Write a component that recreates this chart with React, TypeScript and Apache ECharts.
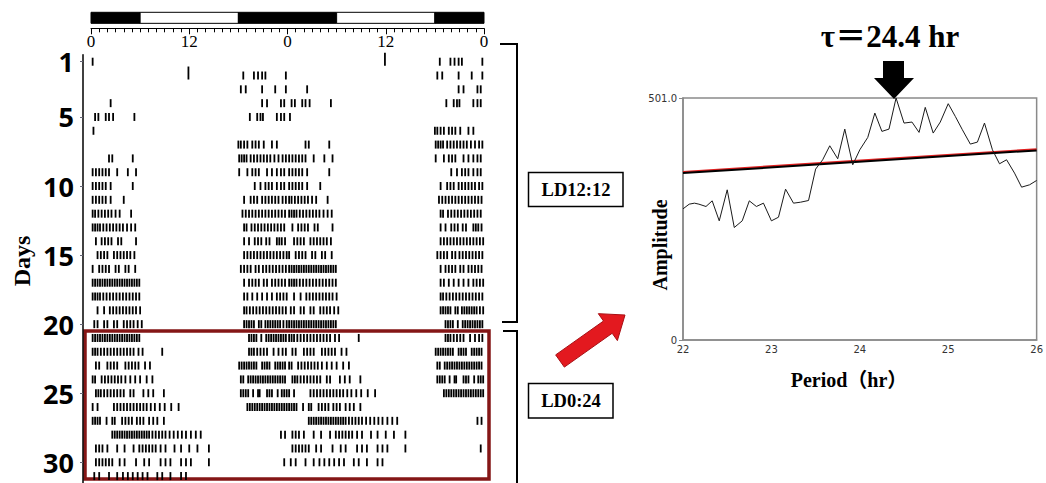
import React, { useEffect, useRef } from "react";
import * as echarts from "echarts";

// ---------- Actogram data (activity events, hours 0-24, per day) ----------
const activityByDay: number[][] = [
  [0.2],
  [18.6, 19.9, 20.4, 20.9, 21.3, 23.8],
  [18.3, 18.9, 20.9, 22.5, 23.8],
  [2.4, 20.9, 21.5, 23.2, 23.6],
  [0.5, 0.9, 1.8, 2.2, 2.7, 5.3, 19.4, 20.3, 20.7, 21.0, 22.7, 23.2, 23.6],
  [0.3],
  [18.0, 18.3, 18.7, 19.1, 19.7, 20.1, 20.5, 21.1, 22.1, 22.7],
  [2.2, 2.6, 5.1, 18.1, 18.4, 18.7, 19.0, 19.5, 19.9, 20.3, 20.7, 21.1, 21.5, 21.9, 22.4, 22.9, 23.4, 23.8],
  [0.2, 0.6, 1.0, 1.4, 1.8, 2.2, 3.2, 4.5, 5.5, 18.1, 19.1, 19.7, 20.1, 20.5, 21.5, 22.1, 22.7, 23.2, 23.6],
  [0.2, 0.6, 1.0, 1.4, 1.8, 2.4, 5.1, 20.0, 20.7, 21.3, 21.7, 22.1, 22.7, 23.2, 23.6],
  [0.2, 0.6, 1.0, 1.4, 1.8, 2.4, 4.0, 18.7, 19.5, 19.9, 20.3, 20.9, 21.3, 21.7, 22.1, 22.5, 22.9, 23.4, 23.8],
  [0.2, 0.5, 0.9, 1.3, 1.7, 2.1, 2.5, 3.0, 3.5, 4.9, 18.5, 18.9, 19.3, 19.7, 20.1, 20.5, 20.9, 21.3, 21.7, 22.1, 22.5, 22.9, 23.3, 23.7],
  [0.2, 0.5, 0.8, 1.1, 1.5, 1.9, 2.3, 2.7, 3.1, 3.5, 3.9, 4.4, 4.9, 5.4, 18.7, 19.0, 19.6, 20.0, 20.4, 20.8, 21.2, 21.6, 22.0, 22.4, 22.8, 23.2, 23.6],
  [0.6, 1.3, 1.7, 2.1, 2.5, 3.3, 3.7, 5.5, 18.7, 19.3, 20.0, 20.4, 20.8, 21.4, 21.8, 22.7, 23.0, 23.3, 23.7],
  [0.8, 1.2, 1.6, 2.0, 2.8, 3.2, 3.6, 4.0, 4.4, 4.8, 5.3, 18.7, 19.1, 19.5, 19.9, 20.3, 20.7, 21.1, 21.5, 21.9, 22.3, 22.7, 23.1, 23.5, 23.9],
  [0.2, 1.0, 1.4, 1.8, 2.2, 3.0, 3.4, 4.2, 4.6, 5.4, 18.3, 18.7, 19.1, 19.5, 20.1, 20.5, 21.0, 21.4, 21.8, 22.2, 22.6, 23.0, 23.4, 23.8],
  [0.2, 0.5, 0.8, 1.1, 1.4, 1.7, 2.0, 2.3, 2.6, 2.9, 3.2, 3.5, 3.8, 4.1, 4.4, 4.7, 5.0, 5.3, 5.6, 5.9, 18.7, 19.3, 19.7, 20.1, 20.5, 21.1, 21.5, 22.1, 22.5, 22.9, 23.3, 23.7],
  [0.2, 0.5, 0.8, 1.1, 1.5, 1.9, 2.3, 2.7, 3.1, 3.5, 3.9, 4.3, 4.7, 5.1, 5.5, 5.9, 18.7, 19.1, 19.7, 20.3, 20.9, 21.5, 22.1, 22.7, 23.1, 23.5, 23.9],
  [0.8, 1.6, 2.3, 2.7, 3.1, 3.5, 3.9, 4.3, 4.7, 5.1, 5.5, 6.0, 18.7, 19.0, 19.4, 19.8, 20.2, 20.6, 21.0, 21.4, 21.8, 22.2, 22.6, 23.0, 23.4, 23.8],
  [0.4, 0.8, 1.6, 2.0, 2.8, 3.2, 4.0, 4.4, 4.8, 5.2, 5.7, 6.2, 18.7, 19.0, 19.3, 19.6, 19.9, 20.5, 20.8, 21.3, 21.6, 21.9, 22.2, 22.5, 22.8, 23.1, 23.5, 23.9],
  [0.2, 0.5, 0.8, 1.1, 1.4, 1.7, 2.0, 2.3, 2.6, 2.9, 3.2, 3.5, 3.8, 4.1, 4.4, 4.7, 5.0, 5.3, 5.6, 5.9, 19.3, 19.6, 19.9, 20.2, 20.8, 21.4, 21.7, 22.0, 22.3, 22.6, 22.9, 23.2, 23.5, 23.8],
  [0.2, 0.5, 0.8, 1.2, 1.6, 2.0, 2.4, 2.8, 3.2, 3.6, 4.0, 4.4, 4.8, 5.2, 5.8, 6.3, 8.7, 19.3, 19.6, 19.9, 20.3, 20.7, 21.1, 21.5, 22.3, 22.9, 23.4, 23.8],
  [0.6, 1.0, 2.0, 2.4, 2.8, 3.2, 4.2, 4.6, 5.0, 5.4, 5.8, 6.6, 7.2, 18.1, 18.4, 18.7, 19.0, 19.3, 19.6, 19.9, 20.2, 20.9, 21.2, 21.5, 21.8, 22.5, 22.8, 23.1, 23.4, 23.7],
  [0.2, 0.5, 1.3, 1.7, 2.1, 2.5, 2.9, 3.3, 3.7, 4.2, 4.8, 5.4, 6.0, 6.8, 7.5, 18.3, 18.6, 19.2, 19.5, 19.8, 20.1, 20.4, 20.7, 21.0, 21.3, 21.6, 21.9, 22.2, 22.5, 22.8, 23.1, 23.4, 23.7],
  [0.6, 0.9, 1.2, 1.6, 2.0, 2.4, 2.8, 3.2, 3.6, 4.0, 4.8, 5.2, 6.4, 7.0, 7.6, 8.9, 18.3, 18.6, 18.9, 19.2, 19.8, 20.4, 20.6, 21.5, 21.8, 22.1, 22.8, 23.3, 23.6, 23.9],
  [0.2, 0.8, 2.8, 3.2, 3.6, 4.0, 4.4, 4.8, 5.2, 5.6, 6.0, 6.4, 6.8, 7.3, 7.8, 8.4, 9.0, 9.8, 10.7, 19.1, 19.4, 19.7, 20.0, 20.3, 20.6, 20.9, 21.2, 21.5, 21.8, 22.1, 22.4, 22.7, 23.0, 23.3, 23.6, 23.9],
  [0.2, 0.5, 0.8, 1.1, 1.9, 2.6, 2.9, 3.8, 4.2, 4.6, 5.0, 5.6, 6.0, 6.4, 7.1, 7.6, 8.1, 8.9],
  [2.6, 2.9, 3.2, 3.5, 3.8, 4.1, 4.4, 4.7, 5.0, 5.3, 5.6, 5.9, 6.2, 6.5, 6.8, 7.1, 7.5, 7.9, 8.3, 8.7, 9.1, 9.6, 10.1, 10.6, 11.1, 11.6, 12.2, 12.8, 13.4, 23.2, 23.7],
  [0.6, 1.0, 1.4, 2.0, 3.2, 4.1, 5.2, 5.9, 6.3, 6.7, 7.1, 7.5, 7.9, 8.5, 9.1, 10.2, 11.0, 12.0, 13.0, 14.4],
  [0.6, 1.0, 1.4, 1.8, 2.2, 2.6, 3.5, 4.1, 5.5, 6.5, 7.1, 8.5, 9.1, 9.7, 11.0, 11.6, 12.2, 14.4, 23.6],
  [0.4, 1.0, 2.2, 3.2, 3.9, 4.5, 5.1, 5.7, 6.3, 6.9, 8.1, 8.7, 9.7, 11.0, 11.6],
  [],
];
// large single bouts: [day, hour]
const tallEvents: number[][] = [[2, 11.9]];
const plottedDays = 31;
const dayTicks = [1, 5, 10, 15, 20, 25, 30];
const hourTickValues = [0, 12, 24, 36, 48];
const hourTickLabels = ["0", "12", "0", "12", "0"];
// light schedule across the double-plotted 48 h: [start, end, isLight]
const lightPhases: number[][] = [
  [0, 6, 0],
  [6, 18, 1],
  [18, 30, 0],
  [30, 42, 1],
  [42, 48, 0],
];

// ---------- Periodogram data ----------
const periods = [22.0, 22.07, 22.13, 22.18, 22.26, 22.33, 22.41, 22.5, 22.58, 22.67, 22.75, 22.83, 22.91, 23.0, 23.08, 23.16, 23.25, 23.33, 23.42, 23.5, 23.58, 23.66, 23.75, 23.83, 23.92, 24.0, 24.09, 24.17, 24.25, 24.33, 24.41, 24.5, 24.59, 24.67, 24.74, 24.83, 24.91, 25.0, 25.08, 25.16, 25.25, 25.33, 25.41, 25.5, 25.58, 25.66, 25.75, 25.83, 25.92, 26.0];
const amplitudes = [271.5, 281.2, 283.3, 281.2, 276.4, 288.1, 246.7, 310.9, 232.9, 246.7, 288.1, 276.4, 283.3, 246.7, 254.2, 312.3, 283.3, 285.3, 288.8, 353.8, 373.1, 402.1, 375.2, 436.6, 362.7, 393.8, 419.4, 469.8, 431.9, 436.6, 501.0, 449.1, 451.2, 429.8, 481.6, 428.4, 451.2, 489.2, 462.9, 435.3, 405.6, 409.7, 449.1, 393.8, 364.8, 373.1, 345.5, 316.4, 321.3, 330.3];
const thresholdPeriods = [22, 26];
const thresholdAmps = [345.5, 392.5];
const ampMax = 501;
const ampTicks = [0, 501];
const periodMin = 22;
const periodMax = 26;
const peakLabel = "τ＝24.4 hr";

const SERIF = '"Liberation Serif", "Noto Sans CJK SC", serif';

export default function App() {
  const ref = useRef<HTMLDivElement>(null);

  useEffect(() => {
    if (!ref.current) return;
    const chart = echarts.init(ref.current, null, { renderer: "svg" });

    const actoPoints: number[][] = [];
    activityByDay.forEach((hours, i) => {
      const day = i + 1;
      hours.forEach((h) => {
        if (day <= plottedDays) actoPoints.push([h, day, 0]);
        if (day >= 2) actoPoints.push([h + 24, day - 1, 0]);
      });
    });
    tallEvents.forEach(([day, h]) => {
      if (day <= plottedDays) actoPoints.push([h, day, 1]);
      if (day >= 2) actoPoints.push([h + 24, day - 1, 1]);
    });

    const periodData = periods.map((p, i) => [p, amplitudes[i]]);
    const thrData = thresholdPeriods.map((p, i) => [p, thresholdAmps[i]]);
    const thrRed = thresholdPeriods.map((p, i) => [p, thresholdAmps[i] + 2.5]);

    // red block arrow
    const T = [560, 361];
    const P = [625, 315];
    const len = Math.hypot(P[0] - T[0], P[1] - T[1]);
    const d = [(P[0] - T[0]) / len, (P[1] - T[1]) / len];
    const n = [-d[1], d[0]];
    const hl = 21, sw = 7.5, hw = 16.5;
    const B = [P[0] - hl * d[0], P[1] - hl * d[1]];
    const pt = (c: number[], k: number) => [c[0] + k * n[0], c[1] + k * n[1]];
    const redArrow = [pt(T, sw), pt(T, -sw), pt(B, -sw), pt(B, -hw), P, pt(B, hw), pt(B, sw)];

    // the day axis sits 8px left of hour 0
    const pxPerHour = 393 / 48;
    const actoMin = -8 / pxPerHour;

    const option: any = {
      animation: false,
      grid: [
        { left: 83, top: 54.8, width: 401, height: 429 },
        { left: 91, top: 12.3, width: 393, height: 16 },
        {
          left: 683, top: 98, width: 355, height: 242,
          show: true, borderColor: "#8a8a8a", borderWidth: 1.5,
        },
      ],
      xAxis: [
        { gridIndex: 0, type: "value", min: actoMin, max: 48, show: false },
        {
          gridIndex: 1, type: "value", min: 0, max: 48, interval: 12, position: "bottom",
          axisLine: { show: true, onZero: false, lineStyle: { color: "#000", width: 1 } },
          axisTick: { show: true, length: 6, lineStyle: { color: "#000", width: 1 } },
          minorTick: { show: true, splitNumber: 12, length: 4, lineStyle: { color: "#000", width: 1 } },
          splitLine: { show: false },
          axisLabel: {
            margin: 5, fontSize: 17, fontFamily: SERIF, color: "#000",
            formatter: (v: number) => hourTickLabels[hourTickValues.indexOf(v)] ?? "",
          },
        },
        {
          gridIndex: 2, type: "value", min: periodMin, max: periodMax, interval: 1,
          axisLine: { show: true, onZero: false, lineStyle: { color: "#8a8a8a", width: 1.5 } },
          axisTick: { show: false },
          splitLine: { show: false },
          axisLabel: { margin: 4, fontSize: 10, color: "#333", fontFamily: '"DejaVu Sans", sans-serif' },
        },
      ],
      yAxis: [
        {
          gridIndex: 0, type: "value", min: 0.5, max: 31.5, inverse: true,
          axisLine: { show: true, onZero: false, lineStyle: { color: "#000", width: 1.5 } },
          axisTick: { show: true, customValues: dayTicks, length: 3, lineStyle: { color: "#667" } },
          splitLine: { show: false },
          axisLabel: {
            customValues: dayTicks, margin: 9, fontSize: 27, fontWeight: "bold",
            fontFamily: '"Open Sans", sans-serif', color: "#000",
          },
        },
        { gridIndex: 1, type: "value", min: 0, max: 1, show: false },
        {
          gridIndex: 2, type: "value", min: 0, max: ampMax,
          axisLine: { show: true, onZero: false, lineStyle: { color: "#8a8a8a", width: 1.5 } },
          axisTick: { show: true, customValues: ampTicks, length: 4, lineStyle: { color: "#8a8a8a" } },
          splitLine: { show: false },
          axisLabel: {
            customValues: ampTicks, margin: 6, fontSize: 10, color: "#333",
            fontFamily: '"DejaVu Sans", sans-serif',
            formatter: (v: number) => (v === 0 ? "0" : v.toFixed(1)),
          },
        },
      ],
      series: [
        {
          type: "custom", xAxisIndex: 0, yAxisIndex: 0, clip: false,
          data: actoPoints,
          renderItem: (_p: any, api: any) => {
            const c = api.coord([api.value(0), api.value(1)]);
            const h = api.value(2) ? 13 : 8;
            return {
              type: "rect",
              shape: { x: c[0] - 0.9, y: c[1] + 4 - h, width: 1.8, height: h },
              style: { fill: "#000" },
            };
          },
        },
        {
          type: "custom", xAxisIndex: 1, yAxisIndex: 1, clip: false,
          data: lightPhases,
          renderItem: (_p: any, api: any) => {
            const s = api.coord([api.value(0), 1]);
            const e = api.coord([api.value(1), 0.31]);
            return {
              type: "rect",
              shape: { x: s[0], y: s[1], width: e[0] - s[0], height: e[1] - s[1] },
              style: { fill: api.value(2) ? "#fff" : "#000", stroke: "#000", lineWidth: 1 },
            };
          },
        },
        {
          type: "line", xAxisIndex: 2, yAxisIndex: 2, data: thrRed, showSymbol: false,
          lineStyle: { color: "#e02020", width: 2 }, silent: true,
        },
        {
          type: "line", xAxisIndex: 2, yAxisIndex: 2, data: thrData, showSymbol: false,
          lineStyle: { color: "#000", width: 2 }, silent: true,
        },
        {
          type: "line", xAxisIndex: 2, yAxisIndex: 2, data: periodData, showSymbol: false,
          lineStyle: { color: "#1a1a1a", width: 1 },
        },
      ],
      graphic: [
        {
          type: "text", x: 22, y: 261, rotation: Math.PI / 2,
          style: {
            text: "Days", font: `bold 24px ${SERIF}`, fill: "#000",
            align: "center", verticalAlign: "middle", textAlign: "center", textVerticalAlign: "middle",
          },
        },
        {
          type: "rect", shape: { x: 85, y: 331, width: 404, height: 148 },
          style: { fill: "none", stroke: "#841616", lineWidth: 3.5 },
        },
        {
          type: "polyline", shape: { points: [[500, 44], [517, 44], [517, 322], [502, 322]] },
          style: { stroke: "#000", lineWidth: 2, fill: "none" },
        },
        {
          type: "polyline", shape: { points: [[503, 331], [517, 331], [517, 490]] },
          style: { stroke: "#000", lineWidth: 2, fill: "none" },
        },
        {
          type: "rect", shape: { x: 528.5, y: 172.5, width: 94.5, height: 34 },
          style: { fill: "#fff", stroke: "#000", lineWidth: 1.5 },
        },
        {
          type: "text", x: 576, y: 190,
          style: {
            text: "LD12:12", font: `bold 18.5px ${SERIF}`, fill: "#000",
            align: "center", verticalAlign: "middle", textAlign: "center", textVerticalAlign: "middle",
          },
        },
        {
          type: "rect", shape: { x: 528.5, y: 383.5, width: 84.5, height: 34.5 },
          style: { fill: "#fff", stroke: "#000", lineWidth: 1.5 },
        },
        {
          type: "text", x: 571, y: 401,
          style: {
            text: "LD0:24", font: `bold 18.5px ${SERIF}`, fill: "#000",
            align: "center", verticalAlign: "middle", textAlign: "center", textVerticalAlign: "middle",
          },
        },
        {
          type: "polygon", shape: { points: redArrow },
          style: { fill: "#e3191f", stroke: "#a80e13", lineWidth: 1 },
        },
        {
          type: "text", x: 890, y: 36,
          style: {
            text: peakLabel, font: `bold 31px ${SERIF}`, fill: "#000",
            align: "center", verticalAlign: "middle", textAlign: "center", textVerticalAlign: "middle",
          },
        },
        {
          type: "polygon",
          shape: { points: [[883, 61], [904, 61], [904, 78], [914, 78], [894, 99], [874, 78], [883, 78]] },
          style: { fill: "#000" },
        },
        {
          type: "text", x: 660, y: 245, rotation: Math.PI / 2,
          style: {
            text: "Amplitude", font: `bold 20px ${SERIF}`, fill: "#000",
            align: "center", verticalAlign: "middle", textAlign: "center", textVerticalAlign: "middle",
          },
        },
        {
          type: "text", x: 849, y: 380,
          style: {
            text: "Period（hr）", font: `bold 20px ${SERIF}`, fill: "#000",
            align: "center", verticalAlign: "middle", textAlign: "center", textVerticalAlign: "middle",
          },
        },
      ],
    };

    chart.setOption(option);
    return () => chart.dispose();
  }, []);

  return (
    <div
      ref={ref}
      style={{ position: "absolute", left: 0, top: 0, width: 1046, height: 483, background: "#fff" }}
    />
  );
}
